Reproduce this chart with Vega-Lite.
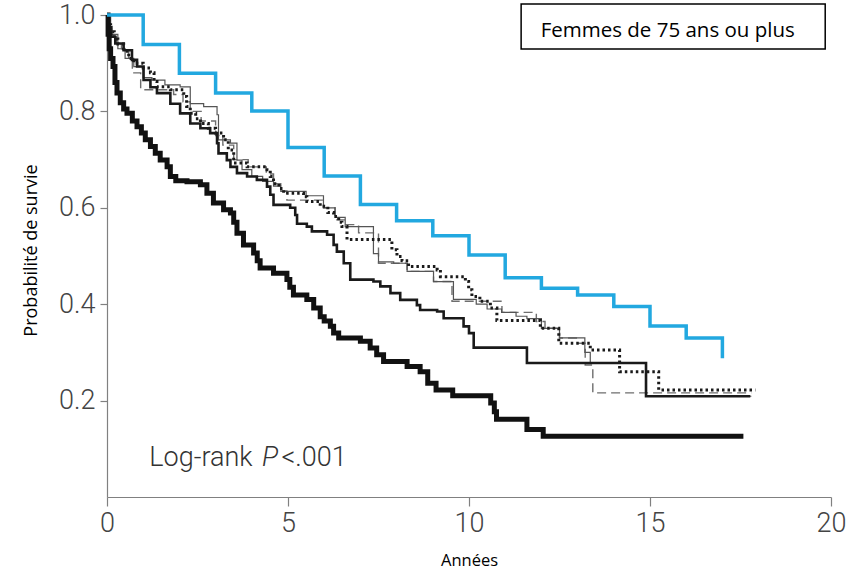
{
  "$schema": "https://vega.github.io/schema/vega-lite/v6.json",
  "width": 724,
  "height": 482,
  "autosize": {"type": "none"},
  "padding": {"left": 107, "top": 15, "right": 29, "bottom": 76},
  "background": "white",
  "config": {"view": {"stroke": null}},
  "datasets": {
    "km": [
      {"series": "blue", "t": 0, "s": 1.0},
      {"series": "blue", "t": 1, "s": 0.939},
      {"series": "blue", "t": 2, "s": 0.879},
      {"series": "blue", "t": 3, "s": 0.838},
      {"series": "blue", "t": 4, "s": 0.801},
      {"series": "blue", "t": 5, "s": 0.725},
      {"series": "blue", "t": 6, "s": 0.666},
      {"series": "blue", "t": 7, "s": 0.607},
      {"series": "blue", "t": 8, "s": 0.573},
      {"series": "blue", "t": 9, "s": 0.542},
      {"series": "blue", "t": 10, "s": 0.502},
      {"series": "blue", "t": 11, "s": 0.455},
      {"series": "blue", "t": 12, "s": 0.433},
      {"series": "blue", "t": 13, "s": 0.419},
      {"series": "blue", "t": 14, "s": 0.395},
      {"series": "blue", "t": 15, "s": 0.355},
      {"series": "blue", "t": 16, "s": 0.33},
      {"series": "blue", "t": 17, "s": 0.288},

      {"series": "thick", "t": 0, "s": 1.0},
      {"series": "thick", "t": 0.03, "s": 0.96},
      {"series": "thick", "t": 0.06, "s": 0.93},
      {"series": "thick", "t": 0.1, "s": 0.91},
      {"series": "thick", "t": 0.166, "s": 0.893},
      {"series": "thick", "t": 0.22, "s": 0.86},
      {"series": "thick", "t": 0.276, "s": 0.838},
      {"series": "thick", "t": 0.367, "s": 0.818},
      {"series": "thick", "t": 0.46, "s": 0.805},
      {"series": "thick", "t": 0.552, "s": 0.796},
      {"series": "thick", "t": 0.7, "s": 0.78},
      {"series": "thick", "t": 0.829, "s": 0.768},
      {"series": "thick", "t": 0.95, "s": 0.755},
      {"series": "thick", "t": 1.058, "s": 0.741},
      {"series": "thick", "t": 1.2, "s": 0.727},
      {"series": "thick", "t": 1.334, "s": 0.713},
      {"series": "thick", "t": 1.47, "s": 0.699},
      {"series": "thick", "t": 1.66, "s": 0.685},
      {"series": "thick", "t": 1.75, "s": 0.665},
      {"series": "thick", "t": 1.9, "s": 0.656},
      {"series": "thick", "t": 2.21, "s": 0.654},
      {"series": "thick", "t": 2.58, "s": 0.648},
      {"series": "thick", "t": 2.76, "s": 0.63},
      {"series": "thick", "t": 2.94, "s": 0.61},
      {"series": "thick", "t": 3.22, "s": 0.596},
      {"series": "thick", "t": 3.41, "s": 0.589},
      {"series": "thick", "t": 3.5, "s": 0.57},
      {"series": "thick", "t": 3.59, "s": 0.547},
      {"series": "thick", "t": 3.77, "s": 0.523},
      {"series": "thick", "t": 4.05, "s": 0.506},
      {"series": "thick", "t": 4.15, "s": 0.49},
      {"series": "thick", "t": 4.23, "s": 0.475},
      {"series": "thick", "t": 4.6, "s": 0.464},
      {"series": "thick", "t": 4.97, "s": 0.451},
      {"series": "thick", "t": 5.05, "s": 0.435},
      {"series": "thick", "t": 5.15, "s": 0.419},
      {"series": "thick", "t": 5.52, "s": 0.41},
      {"series": "thick", "t": 5.71, "s": 0.392},
      {"series": "thick", "t": 5.89, "s": 0.374},
      {"series": "thick", "t": 6.0, "s": 0.365},
      {"series": "thick", "t": 6.17, "s": 0.354},
      {"series": "thick", "t": 6.26, "s": 0.34},
      {"series": "thick", "t": 6.4, "s": 0.33},
      {"series": "thick", "t": 7.0, "s": 0.323},
      {"series": "thick", "t": 7.27, "s": 0.309},
      {"series": "thick", "t": 7.45, "s": 0.295},
      {"series": "thick", "t": 7.64, "s": 0.281},
      {"series": "thick", "t": 8.29, "s": 0.271},
      {"series": "thick", "t": 8.65, "s": 0.26},
      {"series": "thick", "t": 8.86, "s": 0.236},
      {"series": "thick", "t": 9.09, "s": 0.222},
      {"series": "thick", "t": 9.55, "s": 0.21},
      {"series": "thick", "t": 10.6, "s": 0.195},
      {"series": "thick", "t": 10.7, "s": 0.177},
      {"series": "thick", "t": 10.76, "s": 0.1615},
      {"series": "thick", "t": 11.6, "s": 0.14},
      {"series": "thick", "t": 12.05, "s": 0.126},
      {"series": "thick", "t": 17.58, "s": 0.126},

      {"series": "medium", "t": 0, "s": 1.0},
      {"series": "medium", "t": 0.05, "s": 0.975},
      {"series": "medium", "t": 0.12, "s": 0.955},
      {"series": "medium", "t": 0.229, "s": 0.941},
      {"series": "medium", "t": 0.459, "s": 0.927},
      {"series": "medium", "t": 0.69, "s": 0.907},
      {"series": "medium", "t": 0.83, "s": 0.893},
      {"series": "medium", "t": 1.01, "s": 0.865},
      {"series": "medium", "t": 1.2, "s": 0.85},
      {"series": "medium", "t": 1.38, "s": 0.838},
      {"series": "medium", "t": 1.75, "s": 0.816},
      {"series": "medium", "t": 2.02, "s": 0.796},
      {"series": "medium", "t": 2.3, "s": 0.775},
      {"series": "medium", "t": 2.58, "s": 0.765},
      {"series": "medium", "t": 2.85, "s": 0.755},
      {"series": "medium", "t": 3.04, "s": 0.734},
      {"series": "medium", "t": 3.08, "s": 0.713},
      {"series": "medium", "t": 3.31, "s": 0.699},
      {"series": "medium", "t": 3.41, "s": 0.685},
      {"series": "medium", "t": 3.59, "s": 0.672},
      {"series": "medium", "t": 3.87, "s": 0.665},
      {"series": "medium", "t": 4.14, "s": 0.658},
      {"series": "medium", "t": 4.42, "s": 0.644},
      {"series": "medium", "t": 4.51, "s": 0.627},
      {"series": "medium", "t": 4.6, "s": 0.606},
      {"series": "medium", "t": 5.06, "s": 0.6},
      {"series": "medium", "t": 5.2, "s": 0.585},
      {"series": "medium", "t": 5.25, "s": 0.567},
      {"series": "medium", "t": 5.52, "s": 0.561},
      {"series": "medium", "t": 5.66, "s": 0.551},
      {"series": "medium", "t": 6.08, "s": 0.544},
      {"series": "medium", "t": 6.26, "s": 0.523},
      {"series": "medium", "t": 6.35, "s": 0.509},
      {"series": "medium", "t": 6.54, "s": 0.485},
      {"series": "medium", "t": 6.72, "s": 0.451},
      {"series": "medium", "t": 7.36, "s": 0.447},
      {"series": "medium", "t": 7.55, "s": 0.437},
      {"series": "medium", "t": 7.83, "s": 0.423},
      {"series": "medium", "t": 8.1, "s": 0.409},
      {"series": "medium", "t": 8.56, "s": 0.398},
      {"series": "medium", "t": 8.65, "s": 0.388},
      {"series": "medium", "t": 9.12, "s": 0.385},
      {"series": "medium", "t": 9.3, "s": 0.371},
      {"series": "medium", "t": 9.85, "s": 0.354},
      {"series": "medium", "t": 10.0, "s": 0.34},
      {"series": "medium", "t": 10.13, "s": 0.31},
      {"series": "medium", "t": 11.6, "s": 0.278},
      {"series": "medium", "t": 14.89, "s": 0.209},
      {"series": "medium", "t": 17.77, "s": 0.209},

      {"series": "thin", "t": 0, "s": 1.0},
      {"series": "thin", "t": 0.1, "s": 0.96},
      {"series": "thin", "t": 0.3, "s": 0.93},
      {"series": "thin", "t": 0.5, "s": 0.91},
      {"series": "thin", "t": 0.74, "s": 0.893},
      {"series": "thin", "t": 1.0, "s": 0.87},
      {"series": "thin", "t": 1.24, "s": 0.865},
      {"series": "thin", "t": 1.6, "s": 0.855},
      {"series": "thin", "t": 2.02, "s": 0.851},
      {"series": "thin", "t": 2.3, "s": 0.816},
      {"series": "thin", "t": 2.67, "s": 0.81},
      {"series": "thin", "t": 3.04, "s": 0.793},
      {"series": "thin", "t": 3.08, "s": 0.741},
      {"series": "thin", "t": 3.41, "s": 0.734},
      {"series": "thin", "t": 3.59, "s": 0.699},
      {"series": "thin", "t": 3.73, "s": 0.679},
      {"series": "thin", "t": 4.0, "s": 0.665},
      {"series": "thin", "t": 4.3, "s": 0.655},
      {"series": "thin", "t": 4.6, "s": 0.645},
      {"series": "thin", "t": 4.8, "s": 0.634},
      {"series": "thin", "t": 5.5, "s": 0.625},
      {"series": "thin", "t": 5.98, "s": 0.6},
      {"series": "thin", "t": 6.3, "s": 0.58},
      {"series": "thin", "t": 6.58, "s": 0.561},
      {"series": "thin", "t": 7.36, "s": 0.505},
      {"series": "thin", "t": 7.5, "s": 0.488},
      {"series": "thin", "t": 7.92, "s": 0.485},
      {"series": "thin", "t": 8.29, "s": 0.468},
      {"series": "thin", "t": 9.02, "s": 0.447},
      {"series": "thin", "t": 9.57, "s": 0.41},
      {"series": "thin", "t": 10.2, "s": 0.4},
      {"series": "thin", "t": 10.5, "s": 0.39},
      {"series": "thin", "t": 10.9, "s": 0.383},
      {"series": "thin", "t": 11.3, "s": 0.375},
      {"series": "thin", "t": 11.6, "s": 0.37},
      {"series": "thin", "t": 12.0, "s": 0.35},
      {"series": "thin", "t": 12.5, "s": 0.33},
      {"series": "thin", "t": 13.2, "s": 0.3},
      {"series": "thin", "t": 13.35, "s": 0.278},
      {"series": "thin", "t": 14.9, "s": 0.209},
      {"series": "thin", "t": 17.8, "s": 0.209},

      {"series": "dashed", "t": 0, "s": 1.0},
      {"series": "dashed", "t": 0.05, "s": 0.975},
      {"series": "dashed", "t": 0.12, "s": 0.955},
      {"series": "dashed", "t": 0.25, "s": 0.94},
      {"series": "dashed", "t": 0.4, "s": 0.93},
      {"series": "dashed", "t": 0.6, "s": 0.91},
      {"series": "dashed", "t": 0.7, "s": 0.88},
      {"series": "dashed", "t": 0.93, "s": 0.845},
      {"series": "dashed", "t": 1.84, "s": 0.835},
      {"series": "dashed", "t": 2.1, "s": 0.82},
      {"series": "dashed", "t": 2.3, "s": 0.8},
      {"series": "dashed", "t": 2.6, "s": 0.78},
      {"series": "dashed", "t": 3.0, "s": 0.75},
      {"series": "dashed", "t": 3.2, "s": 0.73},
      {"series": "dashed", "t": 3.5, "s": 0.7},
      {"series": "dashed", "t": 3.9, "s": 0.685},
      {"series": "dashed", "t": 4.4, "s": 0.67},
      {"series": "dashed", "t": 4.6, "s": 0.65},
      {"series": "dashed", "t": 4.8, "s": 0.635},
      {"series": "dashed", "t": 4.97, "s": 0.616},
      {"series": "dashed", "t": 5.98, "s": 0.6},
      {"series": "dashed", "t": 6.3, "s": 0.575},
      {"series": "dashed", "t": 6.6, "s": 0.565},
      {"series": "dashed", "t": 6.95, "s": 0.548},
      {"series": "dashed", "t": 7.5, "s": 0.485},
      {"series": "dashed", "t": 8.29, "s": 0.468},
      {"series": "dashed", "t": 9.02, "s": 0.447},
      {"series": "dashed", "t": 9.53, "s": 0.406},
      {"series": "dashed", "t": 10.91, "s": 0.383},
      {"series": "dashed", "t": 11.86, "s": 0.364},
      {"series": "dashed", "t": 12.1, "s": 0.35},
      {"series": "dashed", "t": 12.5, "s": 0.33},
      {"series": "dashed", "t": 13.0, "s": 0.319},
      {"series": "dashed", "t": 13.21, "s": 0.274},
      {"series": "dashed", "t": 13.42, "s": 0.216},
      {"series": "dashed", "t": 17.8, "s": 0.216},

      {"series": "dotted", "t": 0, "s": 1.0},
      {"series": "dotted", "t": 0.05, "s": 0.98},
      {"series": "dotted", "t": 0.1, "s": 0.965},
      {"series": "dotted", "t": 0.2, "s": 0.95},
      {"series": "dotted", "t": 0.3, "s": 0.94},
      {"series": "dotted", "t": 0.46, "s": 0.925},
      {"series": "dotted", "t": 0.6, "s": 0.91},
      {"series": "dotted", "t": 0.74, "s": 0.9},
      {"series": "dotted", "t": 1.0, "s": 0.89},
      {"series": "dotted", "t": 1.2, "s": 0.88},
      {"series": "dotted", "t": 1.3, "s": 0.862},
      {"series": "dotted", "t": 1.38, "s": 0.851},
      {"series": "dotted", "t": 1.75, "s": 0.845},
      {"series": "dotted", "t": 2.12, "s": 0.831},
      {"series": "dotted", "t": 2.2, "s": 0.81},
      {"series": "dotted", "t": 2.3, "s": 0.796},
      {"series": "dotted", "t": 2.45, "s": 0.785},
      {"series": "dotted", "t": 2.58, "s": 0.775},
      {"series": "dotted", "t": 2.8, "s": 0.765},
      {"series": "dotted", "t": 3.0, "s": 0.755},
      {"series": "dotted", "t": 3.22, "s": 0.741},
      {"series": "dotted", "t": 3.35, "s": 0.72},
      {"series": "dotted", "t": 3.5, "s": 0.693},
      {"series": "dotted", "t": 3.87, "s": 0.685},
      {"series": "dotted", "t": 4.42, "s": 0.679},
      {"series": "dotted", "t": 4.51, "s": 0.665},
      {"series": "dotted", "t": 4.6, "s": 0.65},
      {"series": "dotted", "t": 4.75, "s": 0.64},
      {"series": "dotted", "t": 4.88, "s": 0.63},
      {"series": "dotted", "t": 5.43, "s": 0.623},
      {"series": "dotted", "t": 5.52, "s": 0.613},
      {"series": "dotted", "t": 5.89, "s": 0.603},
      {"series": "dotted", "t": 6.1, "s": 0.59},
      {"series": "dotted", "t": 6.26, "s": 0.582},
      {"series": "dotted", "t": 6.4, "s": 0.57},
      {"series": "dotted", "t": 6.49, "s": 0.561},
      {"series": "dotted", "t": 6.63, "s": 0.534},
      {"series": "dotted", "t": 7.87, "s": 0.513},
      {"series": "dotted", "t": 8.01, "s": 0.499},
      {"series": "dotted", "t": 8.15, "s": 0.49},
      {"series": "dotted", "t": 8.33, "s": 0.478},
      {"series": "dotted", "t": 9.12, "s": 0.471},
      {"series": "dotted", "t": 9.21, "s": 0.457},
      {"series": "dotted", "t": 9.9, "s": 0.447},
      {"series": "dotted", "t": 9.99, "s": 0.43},
      {"series": "dotted", "t": 10.08, "s": 0.416},
      {"series": "dotted", "t": 10.3, "s": 0.406},
      {"series": "dotted", "t": 10.59, "s": 0.392},
      {"series": "dotted", "t": 10.77, "s": 0.366},
      {"series": "dotted", "t": 11.97, "s": 0.35},
      {"series": "dotted", "t": 12.48, "s": 0.319},
      {"series": "dotted", "t": 13.35, "s": 0.305},
      {"series": "dotted", "t": 14.16, "s": 0.26},
      {"series": "dotted", "t": 15.24, "s": 0.222},
      {"series": "dotted", "t": 17.91, "s": 0.222}
    ],
    "notes": [
      {"label": "box"},
      {"label": "Femmes de 75 ans ou plus"},
      {"label": "Log-rank"},
      {"label": "P"},
      {"label": "<.001"}
    ]
  },
  "layer": [
    {
      "data": {"name": "km"},
      "transform": [{"filter": "datum.series === 'dashed'"}],
      "mark": {"type": "line", "interpolate": "step-after", "color": "#6e6e6e", "strokeWidth": 1.4, "strokeDash": [9, 5]},
      "encoding": {
        "x": {
          "field": "t", "type": "quantitative",
          "scale": {"domain": [0, 20], "nice": false, "zero": true},
          "axis": {
            "title": "Années", "values": [0, 5, 10, 15, 20], "format": "d",
            "grid": false, "domainColor": "#808080", "domainWidth": 1.2,
            "tickColor": "#808080", "tickSize": 9, "tickWidth": 1.2,
            "labelFont": "Roboto", "labelFontWeight": 300,
            "labelFontSize": 27, "labelColor": "#444444", "labelPadding": 4,
            "labelFlush": false,
            "titleFont": "Open Sans", "titleFontSize": 16.5, "titleFontWeight": "normal",
            "titleColor": "#000000", "titleY": 55, "titleBaseline": "top"
          }
        },
        "y": {
          "field": "s", "type": "quantitative",
          "scale": {"domain": [0, 1], "nice": false, "zero": true},
          "axis": {
            "title": "Probabilité de survie", "values": [0.2, 0.4, 0.6, 0.8, 1.0], "format": ".1f",
            "grid": false, "domainColor": "#808080", "domainWidth": 1.2,
            "tickColor": "#808080", "tickSize": 7, "tickWidth": 1.2,
            "labelFont": "Roboto", "labelFontWeight": 300,
            "labelFontSize": 27, "labelColor": "#444444", "labelPadding": 5,
            "labelFlush": false,
            "titleFont": "Open Sans", "titleFontSize": 18, "titleFontWeight": "normal",
            "titleColor": "#000000", "titleX": -67, "titleY": 235
          }
        }
      }
    },
    {
      "data": {"name": "km"},
      "transform": [{"filter": "datum.series === 'thin'"}],
      "mark": {"type": "line", "interpolate": "step-after", "color": "#555555", "strokeWidth": 1.2},
      "encoding": {"x": {"field": "t", "type": "quantitative"}, "y": {"field": "s", "type": "quantitative"}}
    },
    {
      "data": {"name": "km"},
      "transform": [{"filter": "datum.series === 'medium'"}],
      "mark": {"type": "line", "interpolate": "step-after", "color": "#1a1a1a", "strokeWidth": 2.6},
      "encoding": {"x": {"field": "t", "type": "quantitative"}, "y": {"field": "s", "type": "quantitative"}}
    },
    {
      "data": {"name": "km"},
      "transform": [{"filter": "datum.series === 'dotted'"}],
      "mark": {"type": "line", "interpolate": "step-after", "color": "#1a1a1a", "strokeWidth": 3, "strokeDash": [2.5, 3]},
      "encoding": {"x": {"field": "t", "type": "quantitative"}, "y": {"field": "s", "type": "quantitative"}}
    },
    {
      "data": {"name": "km"},
      "transform": [{"filter": "datum.series === 'thick'"}],
      "mark": {"type": "line", "interpolate": "step-after", "color": "#111111", "strokeWidth": 5},
      "encoding": {"x": {"field": "t", "type": "quantitative"}, "y": {"field": "s", "type": "quantitative"}}
    },
    {
      "data": {"name": "km"},
      "transform": [{"filter": "datum.series === 'blue'"}],
      "mark": {"type": "line", "interpolate": "step-after", "color": "#22a8e0", "strokeWidth": 3.5},
      "encoding": {"x": {"field": "t", "type": "quantitative"}, "y": {"field": "s", "type": "quantitative"}}
    },
    {
      "data": {"name": "notes"},
      "transform": [{"filter": "datum.label === 'box'"}],
      "mark": {"type": "rect", "fill": "white", "stroke": "#000000", "strokeWidth": 1.5},
      "encoding": {
        "x": {"datum": 11.44, "type": "quantitative"},
        "x2": {"datum": 19.84},
        "y": {"datum": 1.023, "type": "quantitative"},
        "y2": {"datum": 0.9295}
      }
    },
    {
      "data": {"name": "notes"},
      "transform": [{"filter": "datum.label === 'Femmes de 75 ans ou plus'"}],
      "mark": {"type": "text", "font": "Open Sans", "fontSize": 20.5, "align": "center", "baseline": "alphabetic", "color": "#000000"},
      "encoding": {
        "x": {"datum": 15.49, "type": "quantitative"},
        "y": {"datum": 0.955, "type": "quantitative"},
        "text": {"field": "label"}
      }
    },
    {
      "data": {"name": "notes"},
      "transform": [{"filter": "datum.label === 'Log-rank'"}],
      "mark": {"type": "text", "font": "Roboto", "fontWeight": 300, "fontSize": 27, "align": "left", "baseline": "alphabetic", "color": "#333333"},
      "encoding": {
        "x": {"datum": 1.17, "type": "quantitative"},
        "y": {"datum": 0.065, "type": "quantitative"},
        "text": {"field": "label"}
      }
    },
    {
      "data": {"name": "notes"},
      "transform": [{"filter": "datum.label === 'P'"}],
      "mark": {"type": "text", "font": "Roboto", "fontWeight": 300, "fontStyle": "italic", "fontSize": 27, "align": "left", "baseline": "alphabetic", "color": "#333333"},
      "encoding": {
        "x": {"datum": 4.28, "type": "quantitative"},
        "y": {"datum": 0.065, "type": "quantitative"},
        "text": {"field": "label"}
      }
    },
    {
      "data": {"name": "notes"},
      "transform": [{"filter": "datum.label === '<.001'"}],
      "mark": {"type": "text", "font": "Roboto", "fontWeight": 300, "fontSize": 27, "align": "left", "baseline": "alphabetic", "color": "#333333"},
      "encoding": {
        "x": {"datum": 4.82, "type": "quantitative"},
        "y": {"datum": 0.065, "type": "quantitative"},
        "text": {"field": "label"}
      }
    }
  ]
}
